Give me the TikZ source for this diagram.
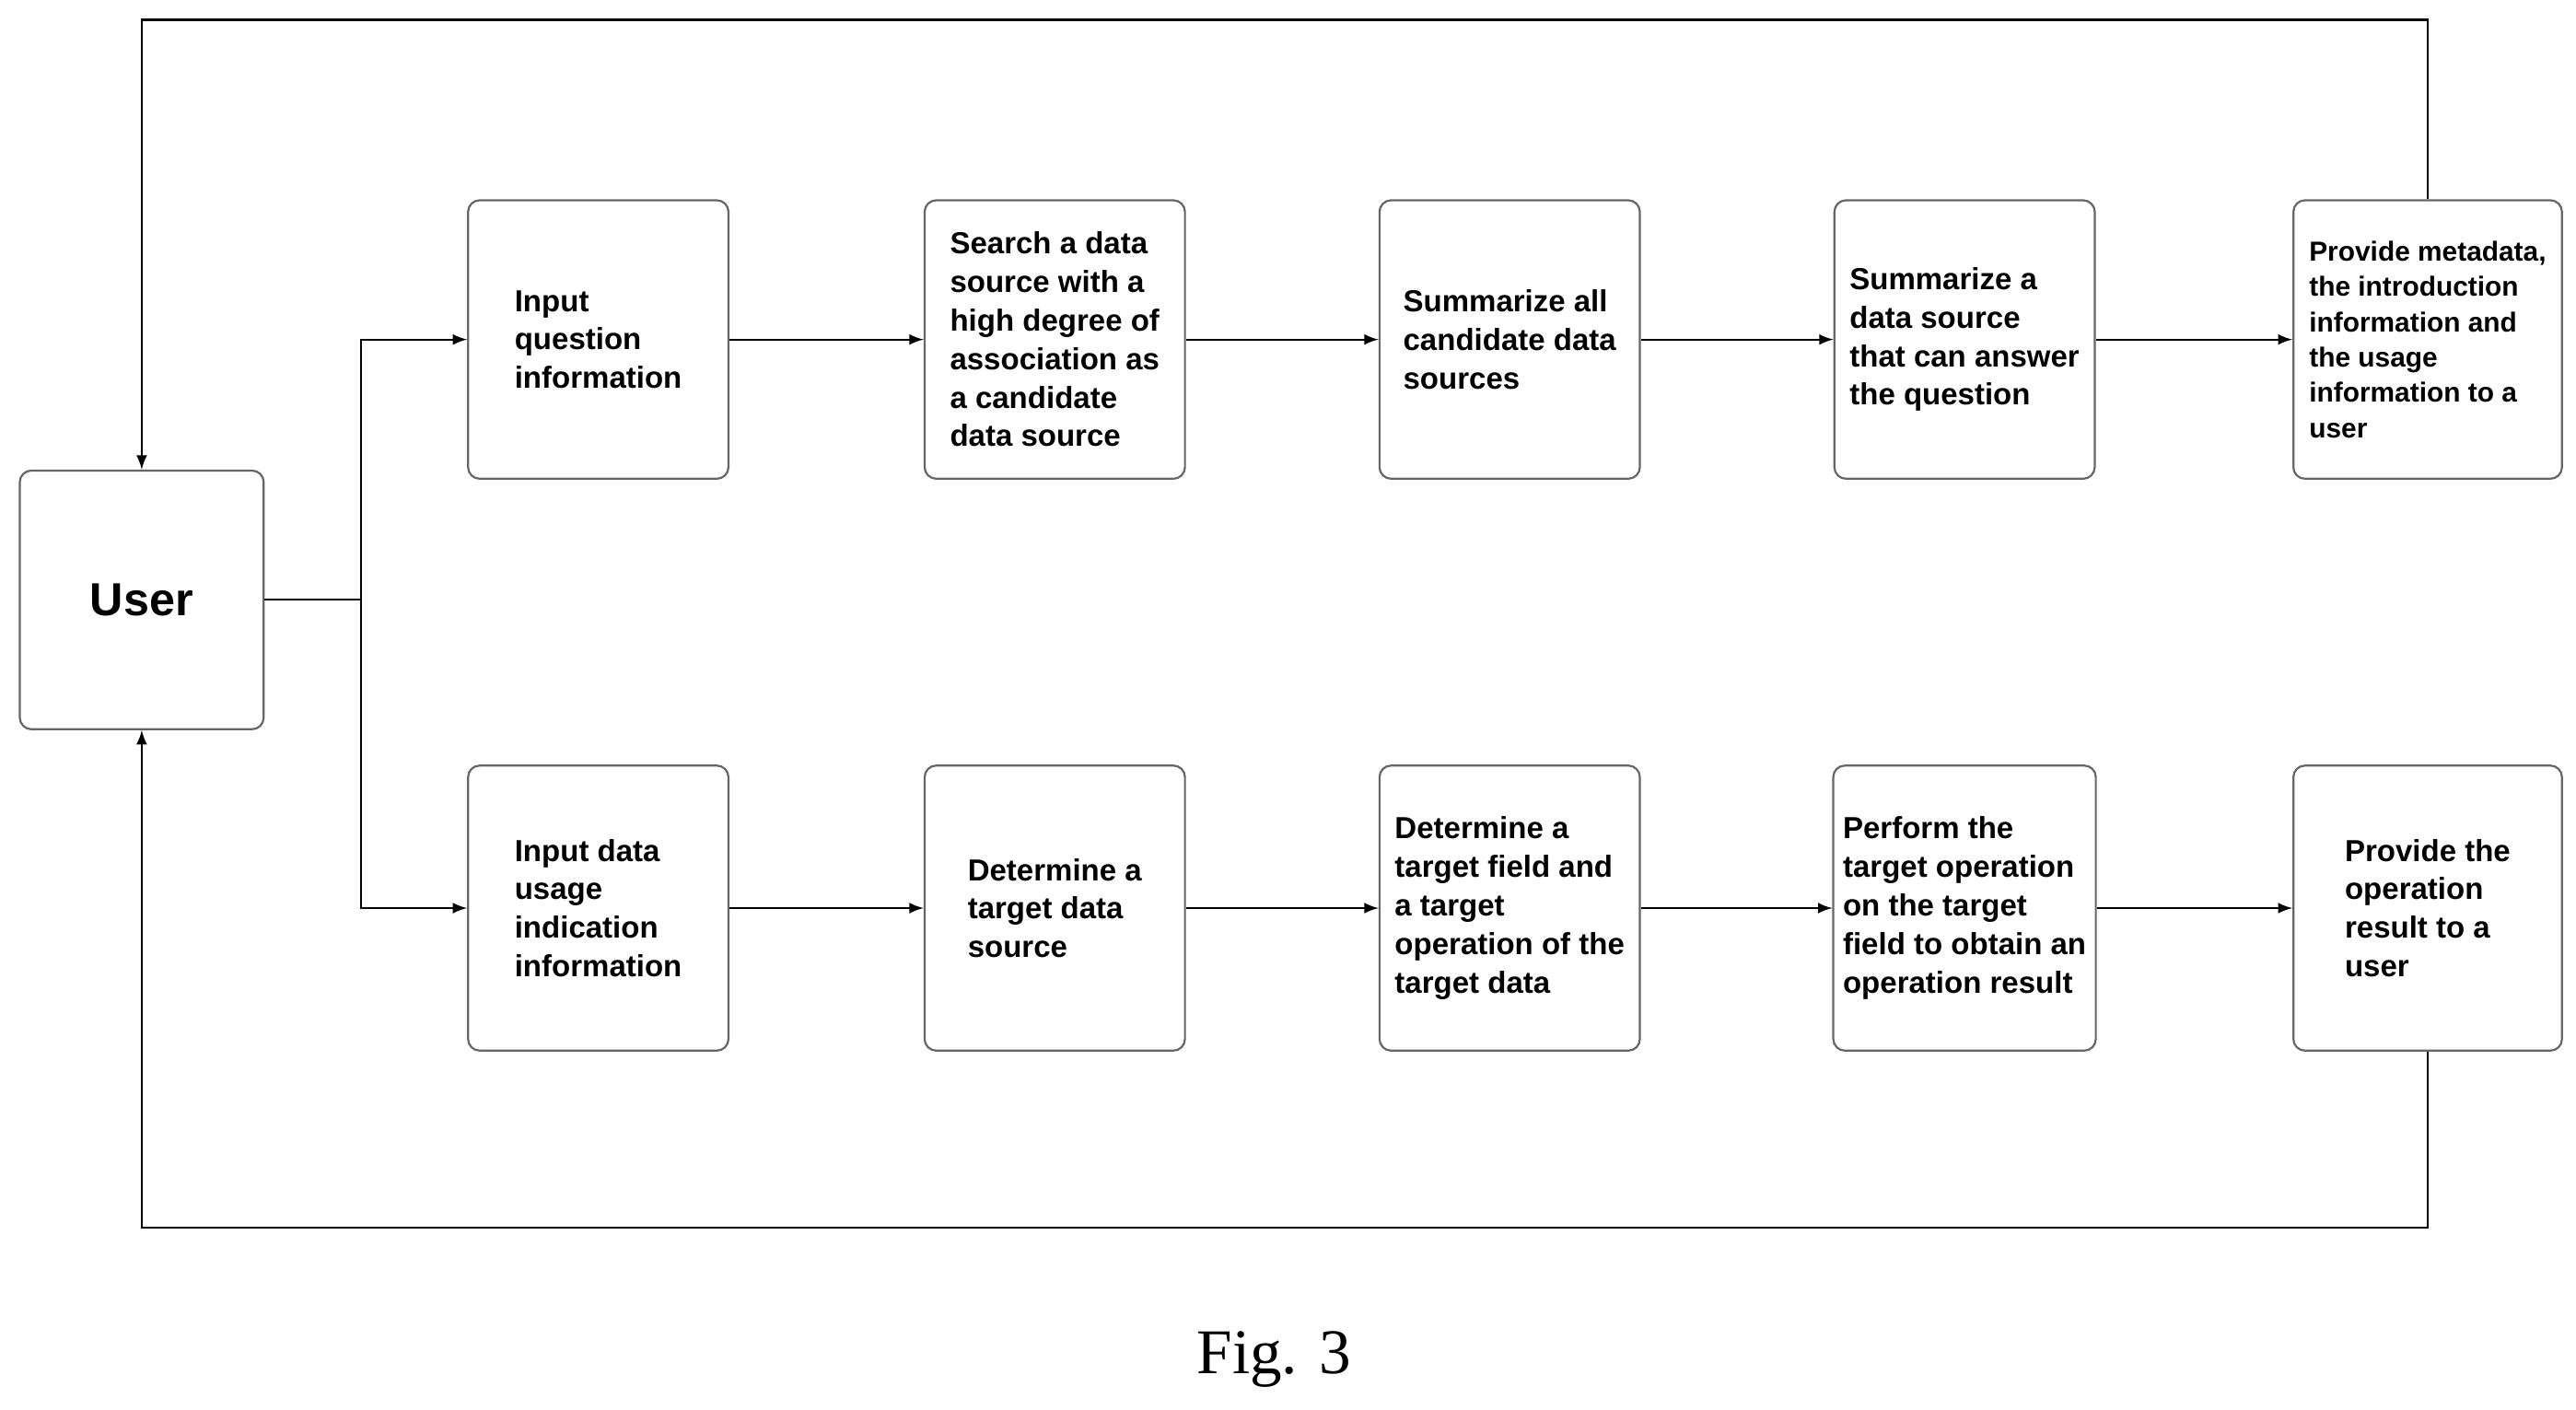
\documentclass[tikz,border=0pt]{standalone}
\usepackage{fontspec}
\setmainfont{Liberation Sans}
\newfontfamily\figfont{Liberation Serif}
\usetikzlibrary{arrows,positioning,calc}
\tikzset{
	stage/.style = {draw=black!60, fill=white, rectangle, rounded corners=4pt, minimum height=3.38cm, minimum width=3.16cm, align=left, font=\bfseries\fontsize{10.5}{13.3}\selectfont},
	tall/.style = {stage, minimum height=3.46cm},
	coord/.style = {coordinate}
}
\begin{document}
\begin{tikzpicture}[x=0.02cm, y=-0.02cm, >=latex, line width=0.7pt]
		\useasboundingbox (0,0) rectangle (1563,855);
		\node [stage, minimum width=2.96cm, minimum height=3.14cm, font=\bfseries\fontsize{16}{19}\selectfont] (user) at (86,364) {User};
		% question branch
		\node [stage] (inq) at (363,206) {Input\\question\\information};
		\node [stage] (search) at (640,206) {Search a data\\source with a\\high degree of\\association as\\a candidate\\data source};
		\node [stage] (sumall) at (916,206) {Summarize all\\candidate data\\sources};
		\node [stage] (sumans) at (1192,206) {Summarize a\\data source\\that can answer\\the question};
		\node [stage, minimum width=3.26cm, font=\bfseries\fontsize{9.5}{12.2}\selectfont] (meta) at (1473,206) {Provide metadata,\\the introduction\\information and\\the usage\\information to a\\user};
		% usage branch
		\node [tall] (inu) at (363,551) {Input data\\usage\\indication\\information};
		\node [tall] (target) at (640,551) {Determine a\\target data\\source};
		\node [tall] (field) at (916,551) {Determine a\\target field and\\a target\\operation of the\\target data};
		\node [tall] (perform) at (1192,551) {Perform the\\target operation\\on the target\\field to obtain an\\operation result};
		\node [tall, minimum width=3.26cm] (result) at (1473,551) {Provide the\\operation\\result to a\\user};
		\node [font=\figfont\fontsize{22}{26}\selectfont] (fig) at (773,825) {Fig. 3};
		\coordinate (split) at (219,364);
		\coordinate (ltop) at (86,12);
		\coordinate (lbot) at (86,745);
		\draw (user.east) -- (split);
		\draw [->] (split) |- (inq.west);
		\draw [->] (split) |- (inu.west);
		\draw [->] (inq) -- (search);
		\draw [->] (search) -- (sumall);
		\draw [->] (sumall) -- (sumans);
		\draw [->] (sumans) -- (meta);
		\draw [->] (inu) -- (target);
		\draw [->] (target) -- (field);
		\draw [->] (field) -- (perform);
		\draw [->] (perform) -- (result);
		\draw [->] (meta.north) |- (ltop) -- (user.north);
		\draw [->] (result.south) |- (lbot) -- (user.south);
	    \end{tikzpicture}
\end{document}
